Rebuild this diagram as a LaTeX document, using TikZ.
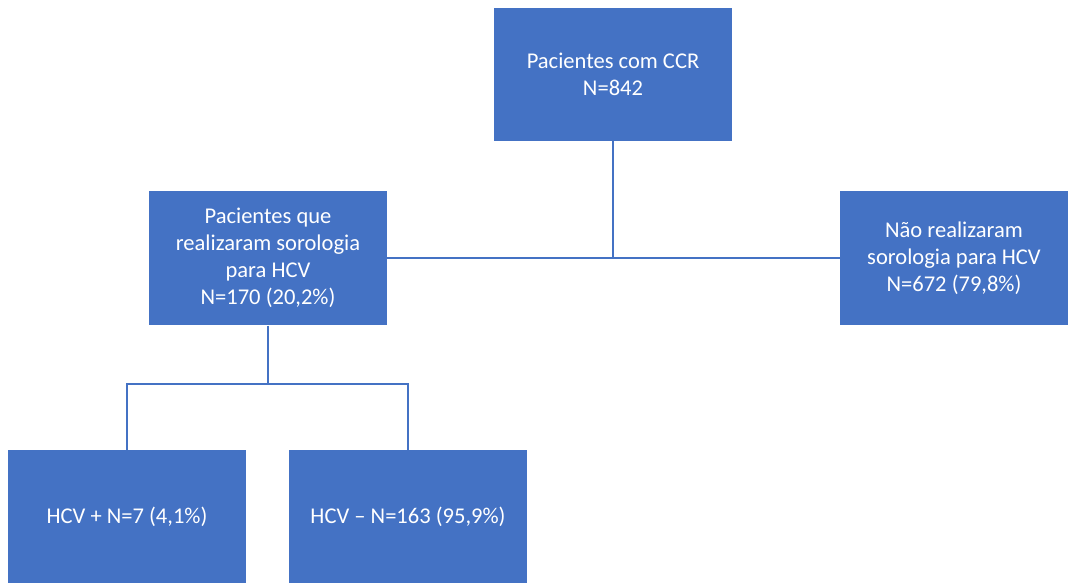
\documentclass[tikz,border=0pt]{standalone}
\usepackage{fontspec}
\setmainfont{Carlito}
\definecolor{boxblue}{HTML}{4472C4}
\begin{document}
\begin{tikzpicture}[x=.75pt, y=-.75pt,
  box/.style={rectangle, fill=boxblue, text=white, draw=none, inner sep=0pt,
    minimum width=178.5pt, minimum height=100pt, align=center,
    font={\fontsize{16.9}{20.3}\selectfont}},
  link/.style={draw=boxblue, line width=1.3pt}]
\useasboundingbox (0,0) rectangle (1068,583);
\node[box] (total) at (613,74.5) {Pacientes com CCR\\N=842};
\node[box, minimum height=101pt] (realizaram) at (268,258)
  {Pacientes que\\realizaram sorologia\\para HCV\\N=170 (20,2\%)};
\node[box, minimum width=171pt, minimum height=101pt] (naorealizaram) at (954,258)
  {Não realizaram\\sorologia para HCV\\N=672 (79,8\%)};
\node[box] (hcvpos) at (127,516.5) {HCV + N=7 (4,1\%)};
\node[box] (hcvneg) at (408,516.5) {HCV – N=163 (95,9\%)};
\coordinate (split) at (268,384);
\path[link] (total.south) -- (total.south |- realizaram.east);
\path[link] (realizaram.east) -- (naorealizaram.west);
\path[link] (realizaram.south) -- (split);
\path[link] (hcvpos.north) |- (split) -| (hcvneg.north);
\end{tikzpicture}
\end{document}
